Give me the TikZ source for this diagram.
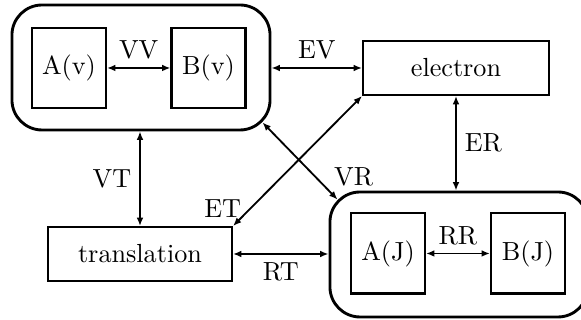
\documentclass[tikz,border=0pt]{standalone}
\usetikzlibrary{arrows.meta,calc}
\begin{document}
\begin{tikzpicture}[x=0.382pt,y=-0.382pt,
  outer/.style={draw, line width=1.1pt, rounded corners=11.5pt, minimum width=98.6pt, minimum height=47.75pt},
  inbox/.style={draw, line width=0.8pt, minimum width=28.3pt, minimum height=30.6pt, inner sep=0pt},
  widebox/.style={draw, line width=0.8pt, minimum height=20.6pt, inner sep=0pt},
  conn/.style={{Latex[length=3.2pt,width=2.6pt]}-{Latex[length=3.2pt,width=2.6pt]}, line width=0.7pt},
  lbl/.style={inner sep=3pt}]
\useasboundingbox (0,0) rectangle (581,320);
% top-left group
\node[outer] (V) at (141,67.5) {};
\node[inbox] (Av) at (69,68) {A(v)};
\node[inbox] (Bv) at (208.5,68) {B(v)};
% bottom-right group
\node[outer] (R) at (459,254.5) {};
\node[inbox] (AJ) at (388,253.5) {A(J)};
\node[inbox] (BJ) at (528,253.5) {B(J)};
% single boxes
\node[widebox, minimum width=71pt] (E) at (456,68) {electron};
\node[widebox, minimum width=70.3pt] (T) at (140,254) {translation};
% corner points on rounded outlines
\coordinate (Vc) at ($(V.south east)+(-9,-9)$);
\coordinate (Rc) at ($(R.north west)+(9,9)$);
% connectors
\draw[conn] (Av.east) -- node[lbl, above] {VV} (Bv.west);
\draw[conn] (AJ.east) -- node[lbl, above] {RR} (BJ.west);
\draw[conn] (V.east |- E.west) -- node[lbl, above] {EV} (E.west);
\draw[conn] (E.south) -- node[lbl, right] {ER} (E.south |- R.north);
\draw[conn] (T.north |- V.south) -- node[lbl, left] {VT} (T.north);
\draw[conn] (E.south west) -- node[lbl, pos=0.87, left=0pt] {ET} (T.north east);
\draw[conn] (Vc) -- node[lbl, pos=0.7, right=4pt] {VR} (Rc);
\draw[conn] (T.east) -- node[lbl, below] {RT} (R.west |- T.east);
\end{tikzpicture}
\end{document}
